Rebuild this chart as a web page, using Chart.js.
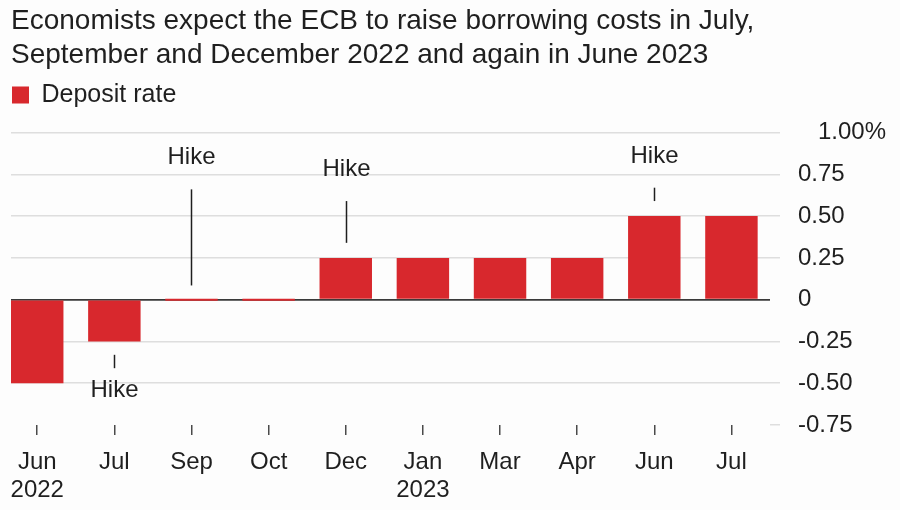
<!DOCTYPE html>
<html>
<head>
<meta charset="utf-8">
<script src="https://cdn.jsdelivr.net/npm/chart.js@4"></script>
<style>
  html, body { margin: 0; padding: 0; background: #fdfdfd; }
  #wrap { width: 900px; height: 510px; }
</style>
</head>
<body>
<div id="wrap"><canvas id="ecbChart" width="900" height="510"></canvas></div>
<script>
        const monthLabels = ['Jun', 'Jul', 'Sep', 'Oct', 'Dec', 'Jan', 'Mar', 'Apr', 'Jun', 'Jul'];
        const yearLabels = ['2022', '', '', '', '', '2023', '', '', '', ''];
        const depositRate = [-0.5, -0.25, 0, 0, 0.25, 0.25, 0.25, 0.25, 0.5, 0.5];

        const yTickValues = [1, 0.75, 0.5, 0.25, 0, -0.25, -0.5, -0.75];
        const yTickLabels = ['   1.00%', '0.75', '0.50', '0.25', '0', '-0.25', '-0.50', '-0.75'];

        // "Hike" notes: bar index, text height, leader line from/to (in rate units)
        const hikeIndex = [1, 2, 4, 8];
        const hikeTextY = [-0.54, 0.85, 0.78, 0.86];
        const hikeLineFrom = [-0.33, 0.085, 0.34, 0.59];
        const hikeLineTo = [-0.41, 0.66, 0.59, 0.67];

        const titleLines = [
            'Economists expect the ECB to raise borrowing costs in July,',
            'September and December 2022 and again in June 2023'
        ];

        const fontFamily = '"Liberation Sans", Arial, Helvetica, sans-serif';
        const colors = {
            bar: '#d8282d',
            text: '#1f1f1f',
            grid: '#dedede',
            zero: '#3a3a3a',
            tick: '#4a4a4a'
        };

        const hikeNotes = {
            id: 'hikeNotes',
            afterDatasetsDraw(chart) {
                const { ctx, scales: { x, y } } = chart;
                ctx.save();
                ctx.strokeStyle = colors.text;
                ctx.lineWidth = 1.5;
                ctx.fillStyle = colors.text;
                ctx.font = '24px ' + fontFamily;
                ctx.textAlign = 'center';
                ctx.textBaseline = 'middle';
                hikeIndex.forEach((idx, i) => {
                    const px = Math.round(x.getPixelForValue(idx)) + 0.5;
                    ctx.beginPath();
                    ctx.moveTo(px, y.getPixelForValue(hikeLineFrom[i]));
                    ctx.lineTo(px, y.getPixelForValue(hikeLineTo[i]));
                    ctx.stroke();
                    ctx.fillText('Hike', px, y.getPixelForValue(hikeTextY[i]));
                });
                ctx.restore();
            }
        };

        const ctx = document.getElementById('ecbChart').getContext('2d');
        new Chart(ctx, {
            type: 'bar',
            data: {
                datasets: [{
                    label: 'Deposit rate',
                    data: depositRate.map((v, i) => ({ x: i, y: v })),
                    backgroundColor: colors.bar,
                    borderWidth: 0,
                    categoryPercentage: 0.8,
                    barPercentage: 0.85,
                    minBarLength: 2
                }]
            },
            options: {
                responsive: false,
                animation: false,
                layout: { padding: { left: 11, right: 0, top: 0, bottom: 0 } },
                plugins: {
                    title: {
                        display: true,
                        text: titleLines,
                        align: 'start',
                        color: colors.text,
                        font: { family: fontFamily, size: 28, weight: 'normal', lineHeight: 34 / 28 },
                        padding: { top: 4, bottom: 9.5 }
                    },
                    legend: {
                        display: true,
                        position: 'top',
                        align: 'start',
                        labels: {
                            color: colors.text,
                            boxWidth: 17,
                            boxHeight: 17,
                            padding: 1,
                            font: { family: fontFamily, size: 25 }
                        }
                    },
                    tooltip: { enabled: false }
                },
                scales: {
                    x: {
                        type: 'linear',
                        offset: false,
                        min: -0.34,
                        max: 9.5,
                        afterBuildTicks: (scale) => {
                            scale.ticks = monthLabels.map((_, i) => ({ value: i }));
                        },
                        afterFit: (scale) => {
                            scale.height = 85;
                            scale.paddingLeft = 0;
                            scale.paddingRight = 0;
                        },
                        border: { display: false },
                        grid: {
                            offset: false,
                            drawOnChartArea: false,
                            drawTicks: true,
                            tickLength: 10,
                            color: colors.tick,
                            lineWidth: 1.5
                        },
                        ticks: {
                            autoSkip: false,
                            maxRotation: 0,
                            padding: 13,
                            color: colors.text,
                            font: { family: fontFamily, size: 24, lineHeight: 28 / 24 },
                            callback: (value) => {
                                const i = Math.round(value);
                                return yearLabels[i] ? [monthLabels[i], yearLabels[i]] : monthLabels[i];
                            }
                        }
                    },
                    y: {
                        position: 'right',
                        min: -0.75,
                        max: 1.09,
                        afterBuildTicks: (scale) => {
                            scale.ticks = yTickValues.map(v => ({ value: v }));
                        },
                        afterFit: (scale) => { scale.width = 130; },
                        border: { display: false },
                        grid: {
                            tickLength: 10,
                            lineWidth: (c) => c.tick && c.tick.value === 0 ? 1.8 : 1.5,
                            color: (c) => {
                                if (!c.tick) return colors.grid;
                                if (c.tick.value === 0) return colors.zero;
                                if (c.tick.value === -0.75) return 'rgba(0,0,0,0)';
                                return colors.grid;
                            },
                            tickColor: (c) => c.tick && c.tick.value === 0 ? 'rgba(0,0,0,0)' : colors.grid
                        },
                        ticks: {
                            padding: 18,
                            color: colors.text,
                            font: { family: fontFamily, size: 24 },
                            callback: (value) => {
                                const i = yTickValues.indexOf(value);
                                return i >= 0 ? yTickLabels[i] : '';
                            }
                        }
                    }
                }
            },
            plugins: [hikeNotes]
        });
</script>
</body>
</html>
